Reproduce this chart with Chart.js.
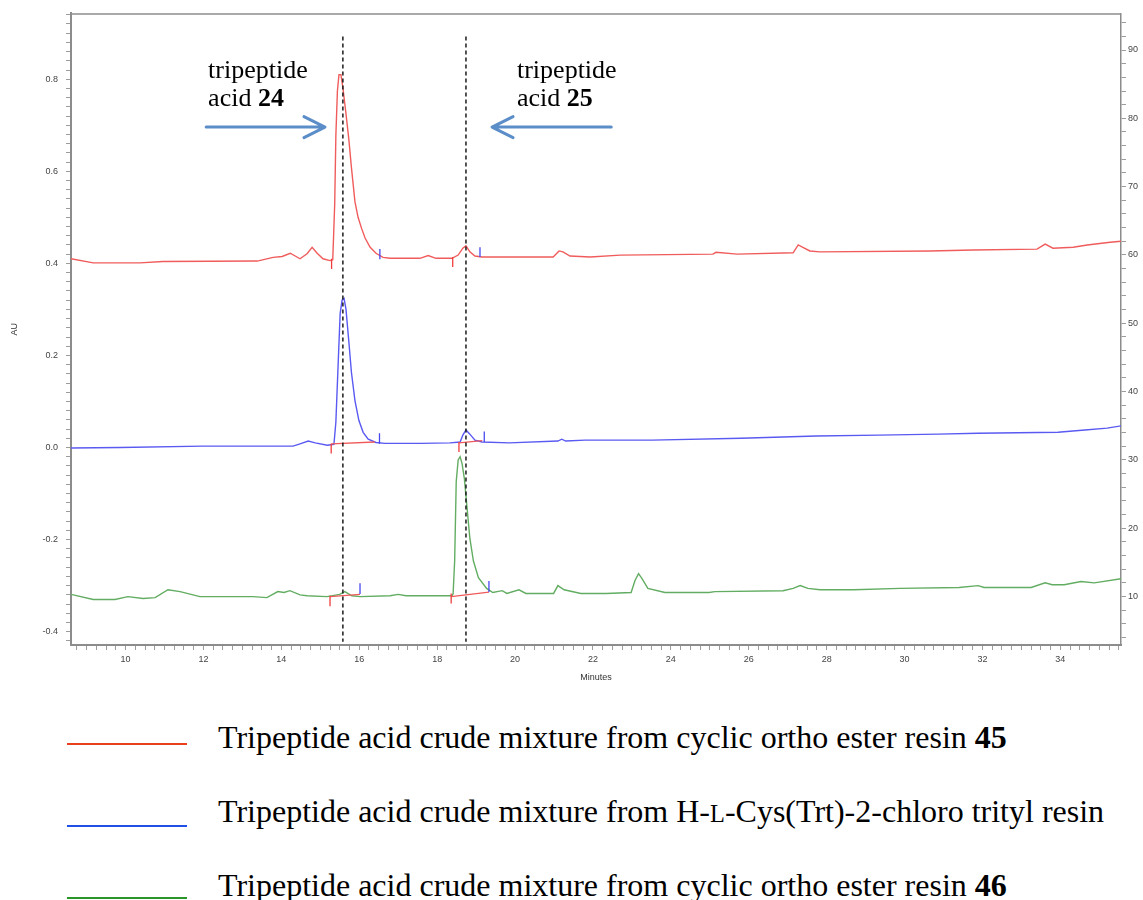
<!DOCTYPE html>
<html><head><meta charset="utf-8">
<script src="https://cdn.jsdelivr.net/npm/chart.js@4.4.0/dist/chart.umd.min.js"></script>
<style>
html,body{margin:0;padding:0;background:#fff;}
#wrap{position:relative;width:1143px;height:900px;overflow:hidden;background:#fff;}
#chartBox{position:absolute;left:0;top:0;width:1143px;height:690px;}
.annot{position:absolute;font-family:"Liberation Serif","Times New Roman",serif;font-size:26px;line-height:28px;color:#000;white-space:nowrap;}
.leg-line{position:absolute;left:67px;width:120px;height:2px;}
.leg-text{position:absolute;left:218px;font-family:"Liberation Serif","Times New Roman",serif;font-size:32px;line-height:32px;color:#000;white-space:nowrap;}
.sc{font-size:0.76em;}
</style></head>
<body>
<div id="wrap">
  <div id="chartBox"><canvas id="c"></canvas></div>
  <div class="annot" id="a1">tripeptide<br>acid <b>24</b></div>
  <div class="annot" id="a2">tripeptide<br>acid <b>25</b></div>
  <div class="leg-line" style="top:743px;background:#e8401c;"></div>
  <div class="leg-text" style="top:721px;">Tripeptide acid crude mixture from cyclic ortho ester resin <b>45</b></div>
  <div class="leg-line" style="top:825px;background:#2050e8;"></div>
  <div class="leg-text" style="top:795px;">Tripeptide acid crude mixture from H-<span class="sc">L</span>-Cys(Trt)-2-chloro trityl resin</div>
  <div class="leg-line" style="top:897px;background:#2a962a;"></div>
  <div class="leg-text" style="top:869px;">Tripeptide acid crude mixture from cyclic ortho ester resin <b>46</b></div>
</div>
<script>
// ---- data (minutes / AU) ----
const redT = [8.60, 9.17, 10.37, 10.96, 13.38, 13.79, 14.02, 14.23, 14.48, 14.66, 14.79, 14.92, 15.07, 15.25, 15.32, 15.37, 15.40, 15.44, 15.48, 15.53, 15.58, 15.65, 15.73, 15.80, 15.89, 15.97, 16.06, 16.15, 16.28, 16.43, 16.61, 16.79, 17.56, 17.77, 17.97, 18.38, 18.54, 18.66, 18.74, 18.84, 18.97, 19.15, 20.98, 21.13, 21.23, 21.41, 21.93, 22.70, 25.08, 25.16, 25.70, 27.14, 27.27, 27.39, 27.57, 27.83, 30.65, 31.76, 33.40, 33.61, 33.81, 34.33, 34.69, 35.28, 35.56];
const redV = [0.410, 0.401, 0.401, 0.404, 0.405, 0.413, 0.415, 0.422, 0.410, 0.421, 0.435, 0.422, 0.410, 0.406, 0.408, 0.528, 0.678, 0.775, 0.810, 0.810, 0.782, 0.732, 0.672, 0.608, 0.534, 0.500, 0.476, 0.455, 0.435, 0.422, 0.413, 0.411, 0.411, 0.417, 0.411, 0.411, 0.418, 0.433, 0.438, 0.425, 0.416, 0.414, 0.414, 0.427, 0.425, 0.416, 0.414, 0.418, 0.420, 0.424, 0.420, 0.423, 0.440, 0.435, 0.427, 0.425, 0.427, 0.429, 0.431, 0.442, 0.433, 0.435, 0.440, 0.446, 0.448];

const blueT = [8.60, 9.86, 11.99, 14.30, 14.48, 14.69, 14.87, 15.18, 15.35, 15.40, 15.46, 15.51, 15.56, 15.61, 15.66, 15.73, 15.80, 15.89, 15.99, 16.10, 16.23, 16.43, 16.66, 17.56, 18.33, 18.59, 18.66, 18.74, 18.84, 18.97, 19.15, 19.85, 21.10, 21.20, 21.30, 21.80, 23.52, 25.80, 27.73, 29.34, 30.86, 31.88, 33.94, 34.63, 35.20, 35.56];
const blueV = [-0.001, 0.000, 0.003, 0.003, 0.008, 0.014, 0.010, 0.005, 0.007, 0.055, 0.184, 0.291, 0.320, 0.324, 0.300, 0.233, 0.163, 0.102, 0.059, 0.033, 0.018, 0.011, 0.009, 0.009, 0.010, 0.012, 0.027, 0.038, 0.029, 0.016, 0.012, 0.010, 0.014, 0.018, 0.014, 0.016, 0.016, 0.020, 0.025, 0.027, 0.029, 0.031, 0.033, 0.038, 0.042, 0.047];

const greenT = [8.60, 9.17, 9.73, 10.06, 10.45, 10.76, 11.09, 11.40, 11.91, 13.27, 13.63, 13.91, 14.07, 14.22, 14.48, 14.66, 15.17, 15.50, 15.63, 15.81, 16.02, 16.79, 17.00, 17.20, 18.38, 18.41, 18.45, 18.49, 18.54, 18.59, 18.64, 18.70, 18.76, 18.84, 18.93, 19.06, 19.27, 19.43, 19.67, 19.79, 20.10, 20.28, 20.99, 21.10, 21.26, 21.69, 22.34, 22.98, 23.08, 23.17, 23.26, 23.41, 23.85, 24.98, 25.13, 26.88, 27.14, 27.32, 27.52, 27.83, 28.70, 29.88, 31.40, 31.89, 32.04, 33.25, 33.61, 33.79, 34.10, 34.53, 34.87, 35.56];
const greenV = [-0.319, -0.330, -0.330, -0.324, -0.328, -0.326, -0.309, -0.313, -0.324, -0.324, -0.326, -0.313, -0.315, -0.311, -0.320, -0.322, -0.324, -0.319, -0.313, -0.322, -0.324, -0.322, -0.319, -0.322, -0.322, -0.318, -0.246, -0.074, -0.027, -0.020, -0.035, -0.068, -0.124, -0.197, -0.246, -0.283, -0.306, -0.315, -0.311, -0.317, -0.309, -0.317, -0.317, -0.300, -0.309, -0.317, -0.317, -0.315, -0.289, -0.274, -0.285, -0.306, -0.315, -0.315, -0.313, -0.311, -0.306, -0.300, -0.306, -0.309, -0.309, -0.306, -0.304, -0.300, -0.304, -0.304, -0.294, -0.298, -0.298, -0.291, -0.294, -0.285];

// integration events: peak start (red ticks) and peak end (blue ticks)
const startEventT   = [15.29, 18.40, 15.28, 18.56, 15.25, 18.36];
const startEventTop = [0.410, 0.414, 0.008, 0.012, -0.322, -0.317];
const startEventBot = [0.388, 0.392, -0.013, -0.010, -0.345, -0.339];
const endEventT   = [16.53, 19.10, 16.52, 19.21, 16.02, 19.33];
const endEventTop = [0.431, 0.435, 0.031, 0.035, -0.295, -0.290];
const endEventBot = [0.409, 0.414, 0.008, 0.012, -0.318, -0.314];
// drawn integration baselines
const baseStartT = [15.28, 18.56, 15.25, 18.36];
const baseStartV = [0.008, 0.010, -0.324, -0.324];
const baseEndT   = [16.40, 19.16, 16.02, 19.33];
const baseEndV   = [0.012, 0.015, -0.319, -0.314];

// reference retention-time markers
const dashT = [15.58, 18.74];
const dashTop = 0.893, dashBottom = -0.422;

// annotations
const annotIds = ['a1', 'a2'];
const annotT = [12.12, 20.05];
const annotTop = [0.851, 0.851];
const arrowTail = [12.07, 22.47];
const arrowTip = [15.12, 19.41];
const arrowLevel = [0.696, 0.696];

// tick labels
const xTickLabels = [10, 12, 14, 16, 18, 20, 22, 24, 26, 28, 30, 32, 34];
const yTickLabels = [-0.4, -0.2, 0.0, 0.2, 0.4, 0.6, 0.8];
const y2TickLabels = [10, 20, 30, 40, 50, 60, 70, 80, 90];

// ---- build ----
const pairs = (t, v) => t.map((x, i) => ({x, y: v[i]}));
function segs(t, a, b) {
  const out = [];
  t.forEach((x, i) => { out.push({x, y: a[i]}, {x, y: b[i]}, {x, y: null}); });
  return out;
}
function segs2(t0, v0, t1, v1) {
  const out = [];
  t0.forEach((x, i) => { out.push({x, y: v0[i]}, {x: t1[i], y: v1[i]}, {x: t1[i], y: null}); });
  return out;
}
const dashData = [];
dashT.forEach(t => dashData.push({x: t, y: dashTop}, {x: t, y: dashBottom}, {x: t, y: null}));

const has = (arr, v) => arr.some(l => Math.abs(l - v) < 1e-6);
const tickFont = {family: '"Liberation Sans", Arial, sans-serif', size: 9};
const axisGray = '#8c8c8c';
const tickGray = '#9c9c9c';

const deco = {
  id: 'deco',
  afterDatasetsDraw(chart) {
    const {ctx, chartArea: a, scales: {x, y}} = chart;
    ctx.save();
    ctx.strokeStyle = '#8c8c8c';
    ctx.lineWidth = 1.5;
    ctx.beginPath();
    ctx.moveTo(a.left, a.top + 0.5);
    ctx.lineTo(a.right, a.top + 0.5);
    ctx.stroke();
    ctx.strokeStyle = '#5b8dc8';
    ctx.lineWidth = 3;
    ctx.lineCap = 'round';
    ctx.lineJoin = 'round';
    arrowTail.forEach((t, i) => {
      const x0 = x.getPixelForValue(t), x1 = x.getPixelForValue(arrowTip[i]);
      const yy = y.getPixelForValue(arrowLevel[i]);
      const dir = Math.sign(x1 - x0);
      ctx.beginPath();
      ctx.moveTo(x0, yy); ctx.lineTo(x1, yy);
      ctx.moveTo(x1 - dir * 21, yy - 10.5); ctx.lineTo(x1, yy); ctx.lineTo(x1 - dir * 21, yy + 10.5);
      ctx.stroke();
    });
    ctx.restore();
  },
  afterRender(chart) {
    const {x, y} = chart.scales;
    annotIds.forEach((id, i) => {
      const el = document.getElementById(id);
      el.style.left = x.getPixelForValue(annotT[i]) + 'px';
      el.style.top = y.getPixelForValue(annotTop[i]) + 'px';
    });
  }
};

new Chart(document.getElementById('c'), {
  type: 'line',
  data: {
    datasets: [
      {label: 'dash', data: dashData, borderColor: '#1a1a1a', borderWidth: 1.5, borderDash: [4, 3], order: 0},
      {label: 'start events', data: segs(startEventT, startEventTop, startEventBot), borderColor: '#f03c3c', borderWidth: 1.3, order: 1},
      {label: 'end events', data: segs(endEventT, endEventTop, endEventBot), borderColor: '#4848f0', borderWidth: 1.3, order: 1},
      {label: 'baselines', data: segs2(baseStartT, baseStartV, baseEndT, baseEndV), borderColor: '#f05a5a', borderWidth: 1.3, order: 1},
      {label: 'resin 45', data: pairs(redT, redV), borderColor: '#f05c5c', borderWidth: 1.4, order: 2},
      {label: 'H-L-Cys(Trt)-2-chloro trityl', data: pairs(blueT, blueV), borderColor: '#5a5af2', borderWidth: 1.4, order: 3},
      {label: 'resin 46', data: pairs(greenT, greenV), borderColor: '#62ad62', borderWidth: 1.4, order: 4}
    ]
  },
  options: {
    responsive: true,
    maintainAspectRatio: false,
    animation: false,
    devicePixelRatio: 1,
    events: [],
    spanGaps: false,
    elements: {point: {radius: 0}, line: {tension: 0, fill: false}},
    layout: {padding: {top: 7, left: 0, right: 0, bottom: 0}},
    plugins: {legend: {display: false}, tooltip: {enabled: false}},
    scales: {
      x: {
        type: 'linear', position: 'bottom', min: 8.6, max: 35.557,
        afterBuildTicks(s) { const t = []; for (let i = 35; i <= 142; i++) t.push({value: i * 0.25}); s.ticks = t; },
        afterFit(s) { s.height = 45; },
        ticks: {autoSkip: false, maxRotation: 0, padding: 4, color: '#444', font: tickFont,
          callback: v => has(xTickLabels, v) ? String(Math.round(v)) : ''},
        grid: {drawOnChartArea: false, drawTicks: true, tickLength: 5, color: tickGray, tickColor: tickGray},
        border: {display: true, color: axisGray, width: 2},
        title: {display: true, text: 'Minutes', color: '#333', font: tickFont, padding: {top: 0, bottom: 7}}
      },
      y: {
        type: 'linear', position: 'left', min: -0.429, max: 0.943,
        afterBuildTicks(s) { const t = []; for (let i = -21; i <= 47; i++) t.push({value: i * 0.02}); s.ticks = t; },
        afterFit(s) { s.width = 71; },
        ticks: {autoSkip: false, padding: 8, color: '#444', font: tickFont,
          callback: v => has(yTickLabels, v) ? v.toFixed(1) : ''},
        grid: {drawOnChartArea: false, drawTicks: true, tickLength: 5, color: tickGray, tickColor: tickGray},
        border: {display: true, color: axisGray, width: 2},
        title: {display: true, text: 'AU', color: '#333', font: tickFont, padding: {top: 9, bottom: 0}}
      },
      y2: {
        type: 'linear', position: 'right', min: 2.9, max: 95.36,
        afterBuildTicks(s) { const t = []; for (let i = 2; i <= 47; i++) t.push({value: i * 2}); s.ticks = t; },
        afterFit(s) { s.width = 22; },
        ticks: {autoSkip: false, padding: 2, color: '#444', font: tickFont,
          callback: v => has(y2TickLabels, v) ? String(Math.round(v)) : ''},
        grid: {drawOnChartArea: false, drawTicks: true, tickLength: 5, color: tickGray, tickColor: tickGray},
        border: {display: true, color: axisGray, width: 1.5}
      }
    }
  },
  plugins: [deco]
});
</script>
</body></html>
